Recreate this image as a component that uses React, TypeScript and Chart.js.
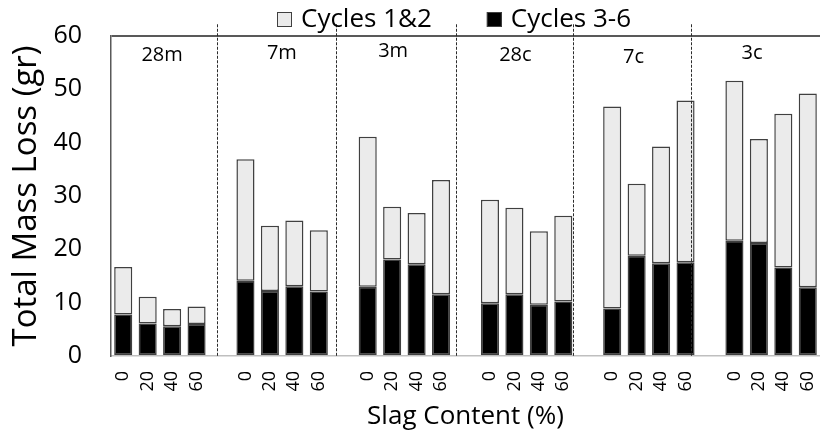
import { useEffect, useRef } from 'react';
import { Chart, registerables } from 'chart.js';

Chart.register(...registerables);

const FONT = "'Open Sans', sans-serif";

// Mix groups and slag contents (x categories)
const groups = ['28m', '7m', '3m', '28c', '7c', '3c'];
const slagContent = ['0', '20', '40', '60'];

// Mass loss (gr) per bar, in group order, 4 slag contents per group
const cycles36 = [
  7.8, 6.1, 5.6, 6.0,
  14.1, 12.2, 13.1, 12.1,
  13.0, 18.1, 17.2, 11.6,
  9.9, 11.6, 9.6, 10.2,
  8.9, 18.8, 17.4, 17.6,
  21.6, 21.2, 16.6, 12.9,
];
const cycles12 = [
  8.9, 5.0, 3.2, 3.3,
  22.8, 12.2, 12.3, 11.5,
  28.1, 9.9, 9.6, 21.4,
  19.4, 16.2, 13.8, 16.1,
  37.9, 13.5, 21.9, 30.3,
  30.0, 19.5, 28.8, 36.3,
];

const yMin = 0;
const yMax = 60;
const yStep = 10;

// Annotations (category-index units on x, value units on y)
const separatorAt = [3.82, 8.69, 13.61, 18.4, 23.21];
const separatorTop = 62.2;
const groupLabelAt = [1.59, 6.49, 11.04, 16.04, 20.87, 25.72];
const groupLabelBase = [55.4, 55.6, 56.1, 55.3, 54.9, 55.7];

// Build category axis with one empty slot between groups
const labels: string[] = [];
const data36: (number | null)[] = [];
const data12: (number | null)[] = [];
groups.forEach((g, gi) => {
  slagContent.forEach((s, si) => {
    labels.push(s);
    data36.push(cycles36[gi * slagContent.length + si]);
    data12.push(cycles12[gi * slagContent.length + si]);
  });
  if (gi < groups.length - 1) {
    labels.push('');
    data36.push(null);
    data12.push(null);
  }
});

const annotationPlugin = {
  id: 'annotations',
  afterDatasetsDraw(chart: any) {
    const { ctx, scales } = chart;
    const xs = scales.x;
    const ys = scales.y;
    ctx.save();
    ctx.strokeStyle = '#2b2b2b';
    ctx.lineWidth = 1;
    ctx.setLineDash([3, 1.5]);
    separatorAt.forEach((v) => {
      const x = Math.round(xs.getPixelForValue(v)) + 0.5;
      ctx.beginPath();
      ctx.moveTo(x, ys.getPixelForValue(separatorTop));
      ctx.lineTo(x, ys.getPixelForValue(yMin) + 1);
      ctx.stroke();
    });
    ctx.setLineDash([]);
    ctx.fillStyle = '#000';
    ctx.font = `20px ${FONT}`;
    ctx.textAlign = 'center';
    ctx.textBaseline = 'alphabetic';
    groups.forEach((g, i) => {
      ctx.fillText(g, xs.getPixelForValue(groupLabelAt[i]), ys.getPixelForValue(groupLabelBase[i]));
    });
    ctx.restore();
  },
  afterDraw(chart: any) {
    const { ctx } = chart;
    const order = [1, 0];
    ctx.save();
    ctx.font = `26px ${FONT}`;
    ctx.textBaseline = 'alphabetic';
    ctx.textAlign = 'left';
    let x = 277;
    const baseY = 27;
    const box = 15;
    order.forEach((di) => {
      const ds = chart.data.datasets[di];
      ctx.fillStyle = ds.backgroundColor;
      ctx.fillRect(x, 12, box, box);
      ctx.strokeStyle = '#404040';
      ctx.lineWidth = 1;
      ctx.strokeRect(x + 0.5, 12.5, box - 1, box - 1);
      ctx.fillStyle = '#000';
      ctx.fillText(ds.label, x + 24, baseY);
      x += 24 + ctx.measureText(ds.label).width + 55;
    });
    ctx.restore();
  },
};

export default function App() {
  const ref = useRef<HTMLCanvasElement>(null);
  useEffect(() => {
    document.body.style.margin = '0';
    const chart = new Chart(ref.current!, {
      type: 'bar',
      data: {
        labels,
        datasets: [
          {
            label: 'Cycles 3-6',
            data: data36,
            backgroundColor: '#000000',
            borderColor: '#404040',
            borderWidth: 1.5,
            borderSkipped: false,
          },
          {
            label: 'Cycles 1&2',
            data: data12,
            backgroundColor: '#ebebeb',
            borderColor: '#404040',
            borderWidth: 1.5,
            borderSkipped: false,
          },
        ],
      },
      options: {
        responsive: false,
        animation: false,
        devicePixelRatio: 1,
        layout: { padding: { top: 36, left: 0, right: 0, bottom: 0 } },
        plugins: { legend: { display: false }, tooltip: { enabled: false } },
        datasets: { bar: { categoryPercentage: 1, barPercentage: 0.74 } },
        scales: {
          x: {
            stacked: true,
            grid: { display: false, drawTicks: false },
            border: { color: '#bfbfbf', width: 1.5 },
            ticks: {
              autoSkip: false,
              maxRotation: 90,
              minRotation: 90,
              padding: 15,
              color: '#000',
              font: { family: FONT, size: 18 },
            },
            title: {
              display: true,
              text: 'Slag Content (%)',
              color: '#000',
              font: { family: FONT, size: 26, lineHeight: 1 },
              padding: { top: 0, bottom: 3 },
            },
            afterFit(s: any) {
              s.height = 77;
              s.paddingLeft = 0;
              s.paddingRight = 0;
            },
          },
          y: {
            stacked: true,
            min: yMin,
            max: yMax,
            ticks: {
              stepSize: yStep,
              padding: 29,
              color: '#000',
              font: { family: FONT, size: 25 },
            },
            grid: {
              drawTicks: false,
              lineWidth: 2,
              color: (c: any) => (c.tick && c.tick.value === yMax ? '#595959' : 'rgba(0,0,0,0)'),
            },
            border: { color: '#595959', width: 1.5 },
            title: {
              display: true,
              text: 'Total Mass Loss (gr)',
              color: '#000',
              font: { family: FONT, size: 33, lineHeight: 1 },
              padding: { top: 10, bottom: 0 },
            },
            afterFit(s: any) {
              s.width = 111;
              s.paddingTop = 0;
              s.paddingBottom = 0;
            },
          },
        },
      },
      plugins: [annotationPlugin],
    });
    return () => chart.destroy();
  }, []);
  return (
    <div style={{ width: 820, height: 433 }}>
      <canvas ref={ref} width={820} height={433} />
    </div>
  );
}
